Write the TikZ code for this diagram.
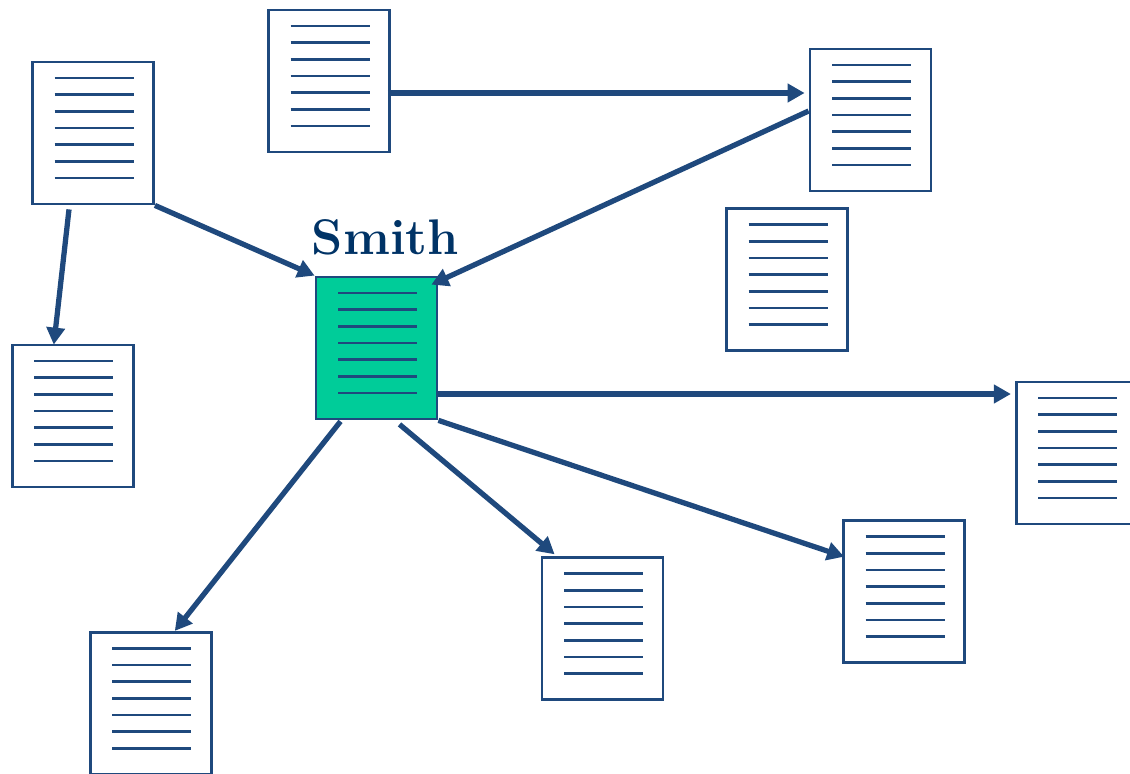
\documentclass[tikz,border=0pt]{standalone}
\usepackage{tikz}
\usetikzlibrary{shapes,arrows.meta,positioning,calc}
\definecolor{docblue}{RGB}{31,73,125}
\definecolor{smithgreen}{RGB}{0,204,153}
\definecolor{smithtext}{RGB}{0,51,102}
\tikzstyle{doc} = [rectangle, draw=docblue, line width=1.6pt, fill=white,
    minimum width=2.42cm, minimum height=2.84cm, inner sep=0pt,
    path picture={\foreach \k in {0,...,6}
      \draw[docblue, line width=1.5pt] ($(path picture bounding box.north west)+(22,16+16.67*\k)$) -- ++(79,0);}]
\tikzstyle{line} = [draw=docblue, line width=3pt, -{Triangle[length=0.34cm, width=0.36cm]}]

\begin{document}
\begin{tikzpicture}[x=0.02cm, y=-0.02cm]
    \useasboundingbox (0,0) rectangle (1130,774);
    % Place nodes
    \node [doc] (topleft) at (93,133) {};
    \node [doc] (top) at (329,81) {};
    \node [doc] (topright) at (870.5,120) {};
    \node [doc] (loose) at (787,279.5) {};
    \node [doc] (left) at (72.8,416) {};
    \node [doc, fill=smithgreen] (smith) at (376.5,348) {};
    \node [doc] (right) at (1076.8,453) {};
    \node [doc] (bottomleft) at (150.8,703.3) {};
    \node [doc] (bottom) at (602.5,628.7) {};
    \node [doc] (bottomright) at (904,591.7) {};
    \node [above=0.4cm of smith, xshift=0.18cm, inner sep=0pt, text=smithtext,
        font=\fontsize{28.5}{30}\selectfont\bfseries] (name) {Smith};

    % Draw edges
    \path [line] (topleft.south east) -- (smith.north west);
    \path [line] ($(topleft.south)+(-24,4)$) -- ($(left.north)+(-19,1)$);
    \path [line] ($(top.east)+(-3,12)$) -- ($(topright.west)+(-4,-27)$);
    \path [line] ($(topright.west)+(0,-9)$) -- ($(smith.north east)+(-7,9)$);
    \path [line] ($(smith.east)+(0,46)$) -- ($(right.west)+(-4,-59)$);
    \path [line] (smith.south east) -- ($(bottomright.west)+(2,-35)$);
    \path [line] ($(smith.south)+(23,4)$) -- ($(bottom.north west)+(14,-2)$);
    \path [line] ($(smith.south)+(-36,1)$) -- ($(bottomleft.north)+(24,0)$);

\end{tikzpicture}
\end{document}
